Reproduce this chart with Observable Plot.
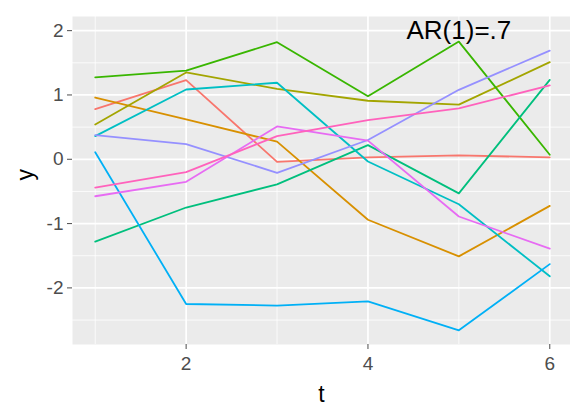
<!DOCTYPE html>
<html>
<head>
<meta charset="utf-8">
<script src="https://cdn.jsdelivr.net/npm/d3@7"></script>
<script src="https://cdn.jsdelivr.net/npm/@observablehq/plot@0.6"></script>
<style>
  html, body { margin: 0; padding: 0; background: white; }
</style>
</head>
<body>
<div id="chart"></div>
<script>
const t = [1, 2, 3, 4, 5, 6];
const s1  = [0.78, 1.23, -0.04, 0.03, 0.06, 0.03];
const s2  = [0.96, 0.62, 0.275, -0.94, -1.51, -0.725];
const s3  = [0.54, 1.35, 1.095, 0.91, 0.85, 1.51];
const s4  = [1.275, 1.38, 1.82, 0.98, 1.83, 0.07];
const s5  = [-1.28, -0.75, -0.39, 0.22, -0.53, 1.235];
const s6  = [0.36, 1.085, 1.19, -0.035, -0.70, -1.82];
const s7  = [0.11, -2.25, -2.275, -2.21, -2.66, -1.63];
const s8  = [0.375, 0.235, -0.21, 0.30, 1.08, 1.69];
const s9  = [-0.575, -0.35, 0.51, 0.29, -0.89, -1.39];
const s10 = [-0.44, -0.20, 0.36, 0.61, 0.79, 1.15];
const seriesNames = ["1","2","3","4","5","6","7","8","9","10"];
const seriesValues = [s1, s2, s3, s4, s5, s6, s7, s8, s9, s10];
const seriesColors = ["#F8766D","#D89000","#A3A500","#39B600","#00BF7D","#00BFC4","#00B0F6","#9590FF","#E76BF3","#FF62BC"];

const xTicks = [2, 4, 6];
const xMinor = [1, 3, 5];
const yTicks = [-2, -1, 0, 1, 2];
const yMinor = [-2.5, -1.5, -0.5, 0.5, 1.5];

const annX = 5, annY = 2, annText = "AR(1)=.7";

const data = [];
seriesNames.forEach((name, i) => {
  t.forEach((tt, j) => data.push({series: name, t: tt, y: seriesValues[i][j]}));
});

const font = "'Liberation Sans', Arial, sans-serif";
const fmt = d => String(d);

const chart = Plot.plot({
  width: 570,
  height: 405,
  marginLeft: 72,
  marginRight: 0,
  marginTop: 16,
  marginBottom: 61,
  style: {fontFamily: font, background: "white", overflow: "hidden"},
  x: {domain: [0.75, 6.25], range: [72, 572]},
  y: {domain: [-2.88, 2.22], range: [344, 16]},
  color: {domain: seriesNames, range: seriesColors},
  marks: [
    Plot.frame({fill: "#EBEBEB", stroke: null}),
    Plot.ruleY(yMinor, {stroke: "white", strokeWidth: 0.8}),
    Plot.ruleX(xMinor, {stroke: "white", strokeWidth: 0.8}),
    Plot.ruleY(yTicks, {stroke: "white", strokeWidth: 1.7}),
    Plot.ruleX(xTicks, {stroke: "white", strokeWidth: 1.7}),
    Plot.line(data, {x: "t", y: "y", z: "series", stroke: "series", strokeWidth: 1.8}),
    Plot.text([{x: annX, y: annY, text: annText}], {x: "x", y: "y", text: "text", fontSize: 26, fill: "black"}),
    Plot.axisX({ticks: xTicks, tickFormat: fmt, tickSize: 5, tickPadding: 7, fontSize: 19, color: "#4D4D4D", label: null}),
    Plot.axisY({ticks: yTicks, tickFormat: fmt, tickSize: 5, tickPadding: 4, fontSize: 19, color: "#4D4D4D", label: null}),
    Plot.text(["t"], {frameAnchor: "bottom", dy: 57, lineAnchor: "bottom", fontSize: 23, fill: "black", text: d => d}),
    Plot.text(["y"], {frameAnchor: "left", dx: -47, rotate: -90, fontSize: 23, fill: "black", text: d => d})
  ]
});
document.getElementById("chart").appendChild(chart);
</script>
</body>
</html>
